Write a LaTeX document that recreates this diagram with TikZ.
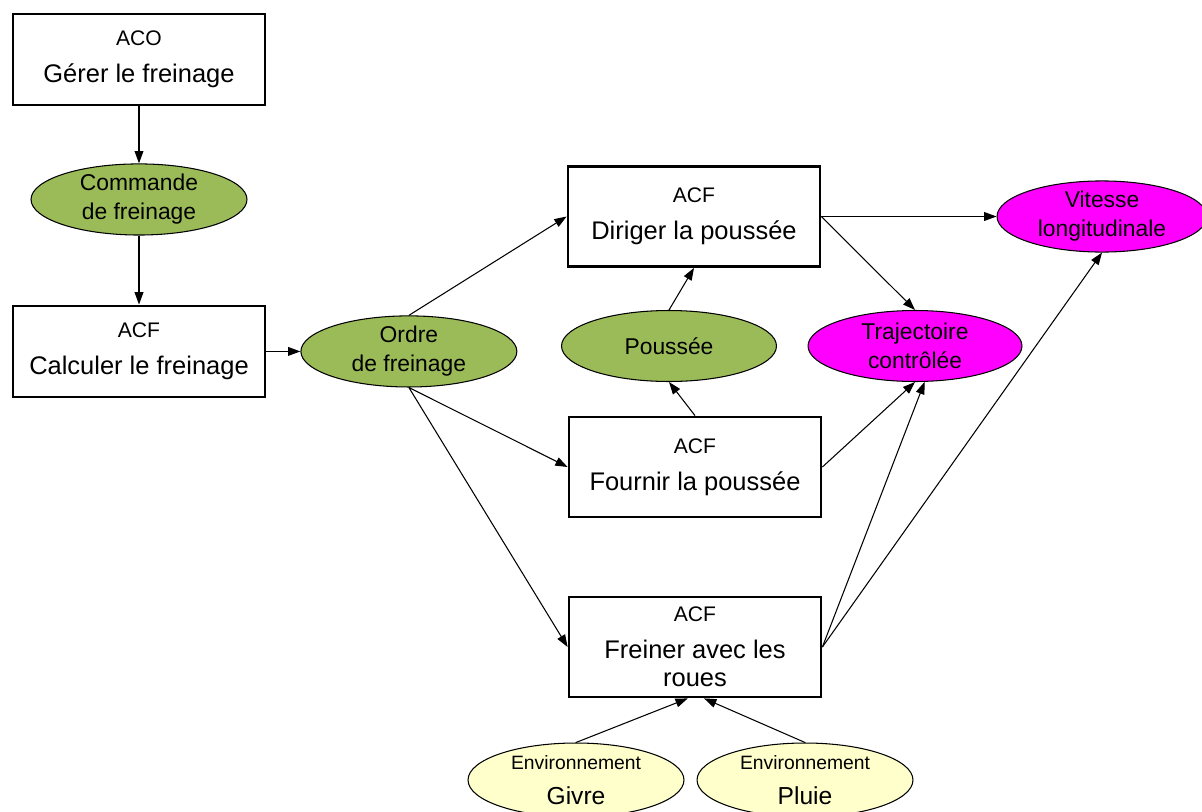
\documentclass[tikz,border=0pt]{standalone}
\usepackage{fontspec}
\setmainfont{Liberation Sans}
\usetikzlibrary{shapes.geometric, positioning, arrows.meta}

\definecolor{fluxgreen}{RGB}{155,187,89}
\definecolor{effetmagenta}{RGB}{255,0,255}
\definecolor{milieuyellow}{RGB}{255,255,204}
\newcommand{\fnlabel}[1]{{\fontsize{12}{14}\selectfont #1}}
\newcommand{\envlabel}[1]{{\fontsize{11}{13}\selectfont #1}}

\begin{document}
\begin{tikzpicture}[
    x=0.02cm, y=-0.02cm,
    font=\fontsize{14.5}{21}\selectfont,
    box/.style={rectangle, draw, line width=1.6pt, minimum width=5.04cm, minimum height=2.0cm, align=center, inner sep=0pt},
    flux/.style={ellipse, draw, line width=0.6pt, fill=fluxgreen, minimum width=4.32cm, minimum height=1.42cm, inner sep=0pt, align=center, font=\fontsize{13}{16.5}\selectfont},
    effet/.style={flux, fill=effetmagenta},
    milieu/.style={flux, fill=milieuyellow, minimum height=1.48cm, font=\fontsize{14}{20}\selectfont},
    arrow/.style={-{Triangle[length=7pt, width=5pt]}, line width=0.6pt},
]
\useasboundingbox (0,0) rectangle (1202,811);

%% LEFT COLUMN
    \node[box, minimum height=1.82cm] (aco) at (139,59.5) {\fnlabel{ACO}\\Gérer le freinage};
    \node[flux, below=1.14cm of aco] (commande) {Commande\\de freinage};
    \node[box, minimum height=1.82cm, below=1.38cm of commande] (calculer) {\fnlabel{ACF}\\Calculer le freinage};
    \node[flux, right=0.68cm of calculer] (ordre) {Ordre\\de freinage};

%% FUNCTIONS
    \node[box] (diriger) at (694,216.5) {\fnlabel{ACF}\\Diriger la poussée};
    \node[flux, minimum width=4.3cm] (poussee) at (669,346) {Poussée};
    \node[box] (fournir) at (695,467) {\fnlabel{ACF}\\Fournir la poussée};
    \node[box] (freiner) at (695,647) {\fnlabel{ACF}\\Freiner avec les\\[-5pt]roues};

%% EFFECTS
    \node[effet, minimum width=4.2cm] (vitesse) at (1102,216.5) {Vitesse\\longitudinale};
    \node[effet, minimum width=4.28cm] (trajectoire) at (915,346) {Trajectoire\\contrôlée};

%% ENVIRONMENT
    \node[milieu] (givre) at (576,780) {\envlabel{Environnement}\\Givre};
    \node[milieu] (pluie) at (805,780) {\envlabel{Environnement}\\Pluie};

    \draw[arrow] (aco) -- (commande);
    \draw[arrow] (commande) -- (calculer);
    \draw[arrow] (calculer) -- (ordre);

    \draw[arrow] (ordre.north) -- (diriger.west);
    \draw[arrow] (ordre.south) -- (fournir.west);
    \draw[arrow] (ordre.south) -- (freiner.west);

    \draw[arrow] (fournir.north) -- (poussee.south);
    \draw[arrow] (poussee.north) -- (diriger.south);

    \draw[arrow] (diriger.east) -- (vitesse.west);
    \draw[arrow] (diriger.east) -- (trajectoire.north);
    \draw[arrow] (fournir.east) -- (trajectoire.south);
    \draw[arrow] (freiner.east) -- (trajectoire.-75);
    \draw[arrow] (freiner.east) -- (vitesse.south);

    \draw[arrow] (givre.north) -- (freiner.262);
    \draw[arrow] (pluie.north) -- (freiner.280);

\end{tikzpicture}
\end{document}
